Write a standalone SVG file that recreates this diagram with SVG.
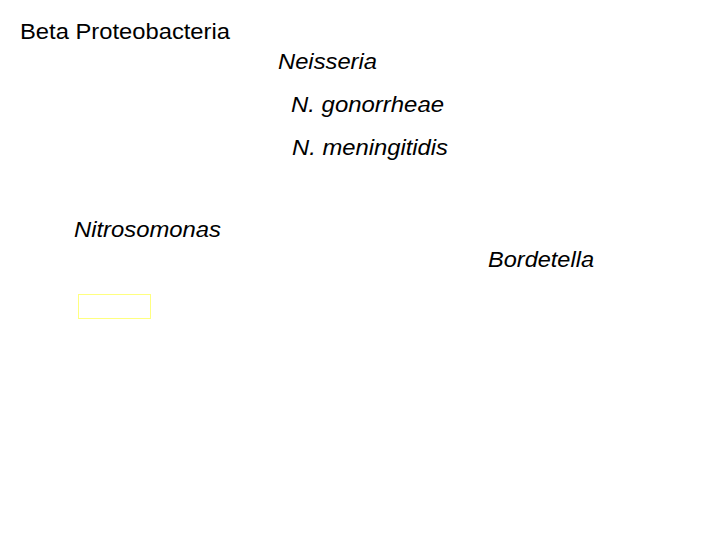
<svg xmlns="http://www.w3.org/2000/svg" width="720" height="540" viewBox="0 0 720 540">
<style>
text{font-family:"Liberation Sans",Arial,sans-serif;font-size:21.5px;fill:#000}
.i{font-style:italic}
</style>
<rect width="720" height="540" fill="#fff"/>
<g id="title"><text x="20" y="38.5" textLength="210" lengthAdjust="spacingAndGlyphs">Beta Proteobacteria</text></g>
<g id="neisseria"><text class="i" x="278" y="68.5" textLength="99" lengthAdjust="spacingAndGlyphs">Neisseria</text></g>
<g id="gonorrheae"><text class="i" x="291" y="111.5" textLength="153" lengthAdjust="spacingAndGlyphs">N. gonorrheae</text></g>
<g id="meningitidis"><text class="i" x="292" y="154.5" textLength="156" lengthAdjust="spacingAndGlyphs">N. meningitidis</text></g>
<g id="nitrosomonas"><text class="i" x="74" y="236.5" textLength="147" lengthAdjust="spacingAndGlyphs">Nitrosomonas</text></g>
<g id="bordetella"><text class="i" x="488" y="266.5" textLength="106" lengthAdjust="spacingAndGlyphs">Bordetella</text></g>
<g id="box"><rect x="78.5" y="294.5" width="72" height="24" fill="none" stroke="#ffff80" stroke-width="1"/></g>
<g id="connectors"></g>
</svg>
